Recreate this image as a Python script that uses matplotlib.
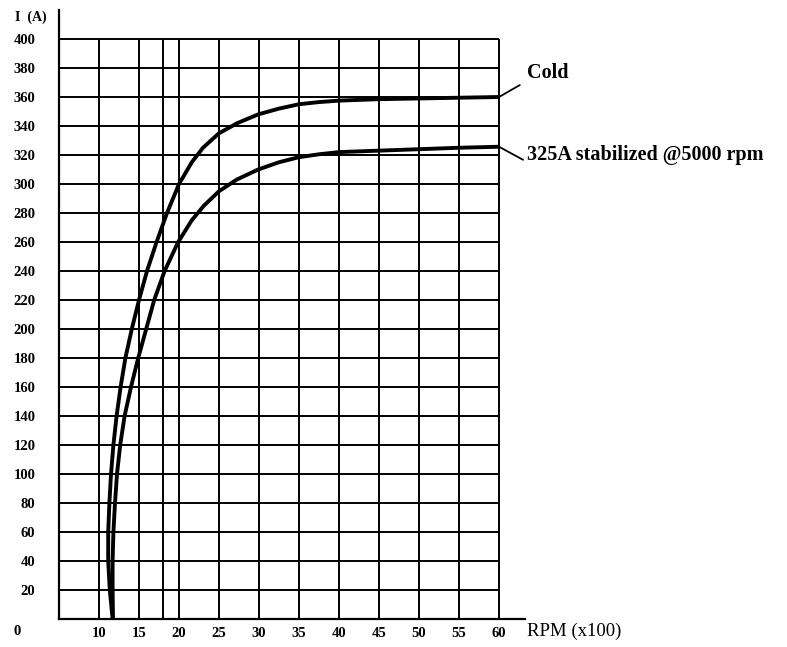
import matplotlib
matplotlib.use("Agg")
import matplotlib.pyplot as plt

# values (RPM in hundreds, current in A)
cold_rpm = [11.7, 11.35, 11.15, 11.15, 11.3, 11.5, 11.8, 12.2, 12.7, 13.3, 14.1, 15.0, 16.0,
            17.2, 18.5, 20.0, 21.6, 23.0, 25.0, 27.3, 29.9, 32.5, 35, 37.5, 40, 45, 50, 55, 60]
cold_amp = [0, 20, 40, 60, 80, 100, 120, 140, 160, 180, 200, 220, 240,
            260, 280, 300, 315, 325, 335, 342, 348, 352, 355, 356.5, 357.5, 358.5, 359, 359.5, 360]

stab_rpm = [11.75, 11.7, 11.7, 11.8, 12.0, 12.25, 12.65, 13.2, 14.0, 14.9, 15.9, 16.9, 18.2,
            19.9, 21.6, 23.1, 25.0, 27.2, 29.9, 32.5, 35, 37.5, 40, 45, 50, 55, 60]
stab_amp = [0, 20, 40, 60, 80, 100, 120, 140, 160, 180, 200, 220, 240,
            260, 275, 285, 295, 303, 310, 315, 318.5, 320.5, 322, 323, 324, 325, 325.7]

x_ticks = [10, 15, 20, 25, 30, 35, 40, 45, 50, 55, 60]
x_grid = [10, 15, 18, 20, 25, 30, 35, 40, 45, 50, 55, 60]
y_ticks = list(range(20, 401, 20))

cold_label = "Cold"
stab_label = "325A stabilized @5000 rpm"

serif = "Liberation Serif"

fig = plt.figure(figsize=(7.87, 6.47), dpi=100)
ax = fig.add_axes([59 / 787, 28 / 647, 466 / 787, 609 / 647])
ax.set_xlim(5, 63.25)
ax.set_ylim(0, 420)

# grid: drawn only inside the 5..60 / 0..400 box
ax.hlines(y_ticks, 5, 60, colors="black", lw=1.4, zorder=1)
ax.vlines(x_grid, 0, 400, colors="black", lw=1.4, zorder=1)

for xs, ys in [(cold_rpm, cold_amp), (stab_rpm, stab_amp)]:
    ax.plot(xs, ys, color="black", lw=2.8, solid_capstyle="butt",
            solid_joinstyle="round", zorder=3)

# leader lines + labels at the right end of each curve
for xs, ys, lbl, lead, txt in [
    (cold_rpm, cold_amp, cold_label, (15, 8.6), (20, 17)),
    (stab_rpm, stab_amp, stab_label, (17.3, -9.4), (20, -6)),
]:
    ax.annotate("", xy=(xs[-1], ys[-1]), xytext=lead, textcoords="offset points",
                arrowprops=dict(arrowstyle="-", color="black", lw=1.3,
                                shrinkA=0, shrinkB=0), annotation_clip=False)
    ax.annotate(lbl, xy=(xs[-1], ys[-1]), xytext=txt, textcoords="offset points",
                ha="left", va="center", fontsize=14.5, fontweight="bold",
                family=serif, annotation_clip=False)

for s in ["top", "right"]:
    ax.spines[s].set_visible(False)
for s in ["left", "bottom"]:
    ax.spines[s].set_linewidth(1.6)

ax.set_xticks(x_ticks)
ax.set_xticklabels([str(v) for v in x_ticks], fontsize=10.5, fontweight="bold", family=serif)
ax.set_yticks(y_ticks)
ax.set_yticklabels([str(v) for v in y_ticks], fontsize=10.5, fontweight="bold", family=serif)
ax.tick_params(axis="x", length=0, pad=6)
ax.tick_params(axis="y", length=0, pad=17)

ax.text(-0.09, -0.021, "0", transform=ax.transAxes, ha="center", va="center",
        fontsize=10.5, fontweight="bold", family=serif)
ax.text(-0.06, 0.988, "I  (A)", transform=ax.transAxes, ha="center", va="center",
        fontsize=10, fontweight="bold", family=serif)
ax.text(1.005, -0.021, "RPM (x100)", transform=ax.transAxes, ha="left", va="center",
        fontsize=13.5, family=serif)

fig.savefig("out.png", dpi=100)
